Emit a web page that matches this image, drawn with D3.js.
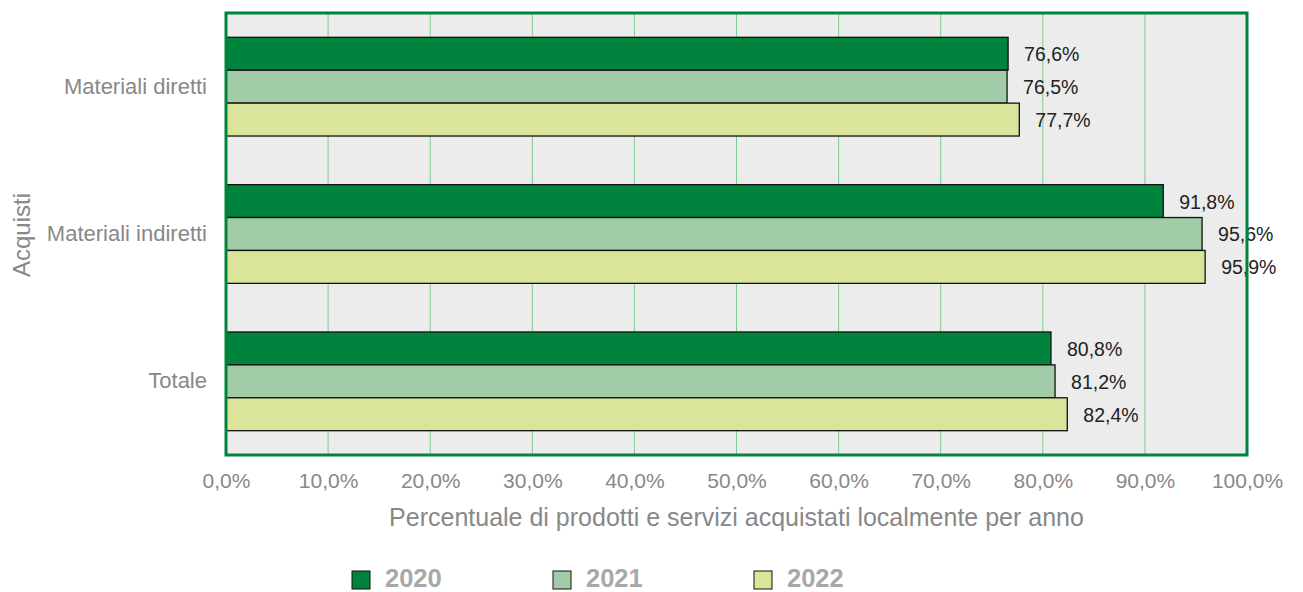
<!DOCTYPE html>
<html>
<head>
<meta charset="utf-8">
<script src="https://cdn.jsdelivr.net/npm/d3@7"></script>
<style>
  body { margin: 0; background: #fff; }
  svg { font-family: "Liberation Sans", Arial, Helvetica, sans-serif; }
</style>
</head>
<body>
<div id="chart-area"></div>
<script>
// categories and series
const categories = ['Materiali diretti', 'Materiali indiretti', 'Totale'];
const years = ['2020', '2021', '2022'];
const values2020 = [76.6, 91.8, 80.8];
const values2021 = [76.5, 95.6, 81.2];
const values2022 = [77.7, 95.9, 82.4];
const xTicks = [0, 10, 20, 30, 40, 50, 60, 70, 80, 90, 100];

const colors = ['#00833c', '#a2cca7', '#dae49b'];

const width = 1303;
const height = 592;
const plot = { left: 226, top: 13, right: 1247, bottom: 455 };

// build rows from the arrays
const series = [values2020, values2021, values2022];
const rows = categories.map((c, i) => ({
    cat: c,
    vals: years.map((y, j) => ({ year: y, value: series[j][i], idx: j }))
}));

const svg = d3.select('#chart-area').append('svg')
    .attr('width', width)
    .attr('height', height);

const x = d3.scaleLinear()
    .domain([0, 100])
    .range([plot.left, plot.right]);

const y = d3.scaleBand()
    .domain(categories)
    .range([plot.top, plot.bottom])
    .paddingInner(0.33)
    .paddingOuter(0.165);

const ySub = d3.scaleBand()
    .domain(years)
    .range([0, y.bandwidth()]);

// background
svg.append('rect')
    .attr('x', plot.left)
    .attr('y', plot.top)
    .attr('width', plot.right - plot.left)
    .attr('height', plot.bottom - plot.top)
    .attr('fill', '#ececec');

// vertical grid lines
svg.append('g')
    .selectAll('line')
    .data(xTicks.slice(1, -1))
    .enter().append('line')
    .attr('x1', d => x(d))
    .attr('x2', d => x(d))
    .attr('y1', plot.top)
    .attr('y2', plot.bottom)
    .attr('stroke', '#7fcb8f')
    .attr('stroke-width', 1);

// bars
const groups = svg.append('g')
    .selectAll('g')
    .data(rows)
    .enter().append('g')
    .attr('transform', d => `translate(0, ${y(d.cat)})`);

groups.selectAll('rect')
    .data(d => d.vals)
    .enter().append('rect')
    .attr('x', x(0))
    .attr('y', d => ySub(d.year))
    .attr('width', d => x(d.value) - x(0))
    .attr('height', ySub.bandwidth())
    .attr('fill', d => colors[d.idx])
    .attr('stroke', '#111')
    .attr('stroke-width', 1.3);

// value labels
groups.selectAll('text')
    .data(d => d.vals)
    .enter().append('text')
    .attr('x', d => x(d.value) + 16)
    .attr('y', d => ySub(d.year) + ySub.bandwidth() / 2)
    .attr('dy', '0.38em')
    .attr('font-size', '19.5px')
    .attr('fill', '#222')
    .text(d => d.value.toFixed(1).replace('.', ',') + '%');

// plot border
svg.append('rect')
    .attr('x', plot.left)
    .attr('y', plot.top)
    .attr('width', plot.right - plot.left)
    .attr('height', plot.bottom - plot.top)
    .attr('fill', 'none')
    .attr('stroke', '#00843d')
    .attr('stroke-width', 3);

// x axis
const xAxis = d3.axisBottom(x)
    .tickValues(xTicks)
    .tickSize(0)
    .tickPadding(0)
    .tickFormat(d => d.toFixed(1).replace('.', ',') + '%');

const xAxisGroup = svg.append('g')
    .attr('transform', `translate(0, 488)`)
    .call(xAxis);
xAxisGroup.select('.domain').remove();
xAxisGroup.selectAll('text')
    .attr('y', 0)
    .attr('dy', 0)
    .attr('font-size', '21px')
    .attr('fill', '#888')
    .attr('font-family', null);

// y axis
const yAxis = d3.axisLeft(y)
    .tickSize(0)
    .tickPadding(19);
const yAxisGroup = svg.append('g')
    .attr('transform', `translate(${plot.left}, 0)`)
    .call(yAxis);
yAxisGroup.select('.domain').remove();
yAxisGroup.selectAll('text')
    .attr('font-size', '22px')
    .attr('fill', '#888')
    .attr('font-family', null);

// axis titles
svg.append('text')
    .attr('x', (plot.left + plot.right) / 2)
    .attr('y', 526)
    .attr('text-anchor', 'middle')
    .attr('font-size', '25px')
    .attr('fill', '#888')
    .text('Percentuale di prodotti e servizi acquistati localmente per anno');

svg.append('text')
    .attr('transform', `translate(30, 235) rotate(-90)`)
    .attr('text-anchor', 'middle')
    .attr('font-size', '24px')
    .attr('fill', '#888')
    .text('Acquisti');

// legend (kept just inside the bottom edge)
const legend = svg.append('g')
    .selectAll('g')
    .data(years)
    .enter().append('g')
    .attr('transform', (d, i) => `translate(${352 + i * 201}, 571)`);

legend.append('rect')
    .attr('width', 18)
    .attr('height', 18)
    .attr('fill', (d, i) => colors[i])
    .attr('stroke', '#111')
    .attr('stroke-width', 1);

legend.append('text')
    .attr('x', 33)
    .attr('y', 16)
    .attr('font-size', '25.5px')
    .attr('font-weight', 'bold')
    .attr('fill', '#a8a8a8')
    .text(d => d);
</script>
</body>
</html>
